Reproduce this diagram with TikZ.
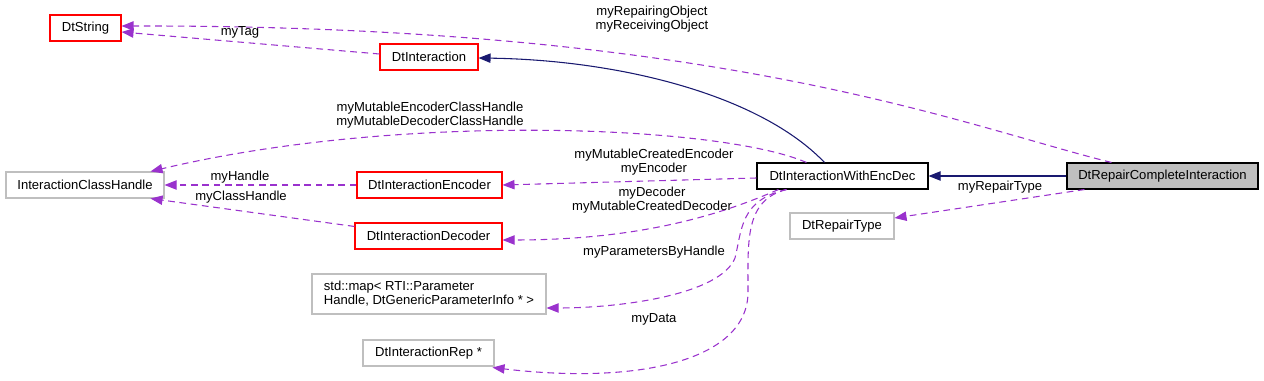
\documentclass[tikz,border=0pt]{standalone}
\usepackage{fontspec}
\setmainfont{Liberation Sans}
\usetikzlibrary{arrows.meta,calc}
\definecolor{purp}{HTML}{9A32CD}
\definecolor{navyc}{HTML}{191970}
\definecolor{redb}{HTML}{FF0000}
\definecolor{grayb}{HTML}{BFBFBF}
\begin{document}
\begin{tikzpicture}[x=0.75pt,y=-0.75pt,
  font=\fontsize{9.8}{10.5}\selectfont,
  box/.style={draw, line width=0.8pt, inner sep=0pt, minimum height=19.5pt, anchor=center},
  redbox/.style={box, draw=redb},
  graybox/.style={box, draw=grayb},
  blackbox/.style={box, draw=black},
  use/.style={draw=purp, line width=0.8pt, dash pattern=on 5pt off 3.5pt, -{Triangle[length=9pt,width=7pt]}},
  inh/.style={draw=navyc, line width=0.8pt, -{Triangle[length=9pt,width=7pt]}},
  lbl/.style={inner sep=0pt, align=center}]
\useasboundingbox (0,0) rectangle (1264,381);

\node[redbox, minimum width={71*0.75pt}] (str) at (85.5,28) {DtString};
\node[redbox, minimum width={98*0.75pt}] (dti) at (429,57) {DtInteraction};
\node[graybox, minimum width={158*0.75pt}] (ich) at (85,185) {InteractionClassHandle};
\node[redbox, minimum width={145*0.75pt}] (enc) at (429.5,185) {DtInteractionEncoder};
\node[redbox, minimum width={147*0.75pt}] (dec) at (428.5,236) {DtInteractionDecoder};
\node[blackbox, minimum width={171*0.75pt}] (wed) at (842.5,176) {DtInteractionWithEncDec};
\node[blackbox, fill=grayb, minimum width={191*0.75pt}] (rci) at (1162.5,176) {DtRepairCompleteInteraction};
\node[graybox, minimum width={104*0.75pt}] (rt) at (842,226) {DtRepairType};
\node[graybox, minimum width={234*0.75pt}, minimum height={40*0.75pt}, align=left] (map) at (429,294) {std::map< RTI::Parameter\\Handle, DtGenericParameterInfo * >};
\node[graybox, minimum width={131*0.75pt}] (rep) at (428.5,353) {DtInteractionRep *};

% connectors
\draw[use] ($(rci.north west)+(45,0)$) .. controls (960,125) and (720,25) .. ($(str.east)+(0,-2)$);
\draw[use] ($(dti.west)+(0,-3)$) -- ($(str.east)+(0,4)$);
\draw[inh] ($(wed.north west)+(68,0)$) .. controls (760,95) and (620,60) .. ($(dti.east)+(0,1)$);
\draw[inh] (rci.west) -- (wed.east);
\draw[use] ($(rci.south west)+(18,0)$) -- ($(rt.east)+(0,-8)$);
\draw[use] ($(wed.north west)+(50,0)$) .. controls (720,125) and (400,112) .. ($(ich.north east)+(-14,0)$);
\draw[use] ($(wed.west)+(0,2)$) -- (enc.east);
\draw[use] ($(wed.south west)+(22,0)$) .. controls (720,215) and (640,240) .. ($(dec.east)+(0,4)$);
\draw[use] (enc.west) -- (ich.east);
\draw[use] ($(dec.north west)+(0,4)$) -- ($(ich.south east)+(-14,0)$);
\draw[use] ($(wed.south west)+(30,0)$) .. controls (740,200) and (742,230) .. (735,258) .. controls (720,295) and (620,308) .. ($(map.east)+(0,14)$);
\draw[use] ($(wed.south west)+(30,0)$) .. controls (745,200) and (748,240) .. (748,290) .. controls (750,360) and (640,385) .. ($(rep.south east)+(-2,1)$);

% labels
\node[lbl] (l1) at (652,19) {myRepairingObject\\myReceivingObject};
\node[lbl] (l2) at (240,32) {myTag};
\node[lbl] (l3) at (430,115) {myMutableEncoderClassHandle\\myMutableDecoderClassHandle};
\node[lbl] (l4) at (240,177) {myHandle};
\node[lbl] (l5) at (241,197) {myClassHandle};
\node[lbl] (l6) at (654,162) {myMutableCreatedEncoder\\myEncoder};
\node[lbl] (l7) at (652,200) {myDecoder\\myMutableCreatedDecoder};
\node[lbl] (l8) at (654,252) {myParametersByHandle};
\node[lbl] (l9) at (654,319) {myData};
\node[lbl] (l10) at (1000,187) {myRepairType};
\end{tikzpicture}
\end{document}
